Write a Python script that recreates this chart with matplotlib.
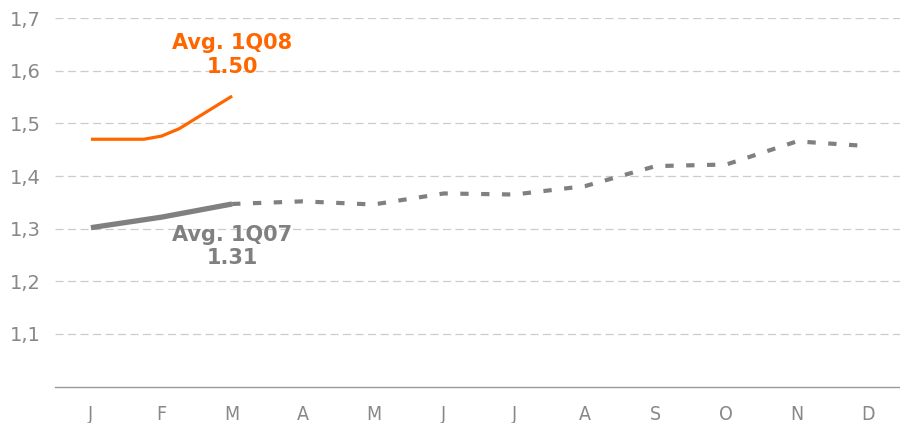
"""
Monthly line chart: 2008 (orange) vs 2007 (grey, solid Q1 + dashed rest of year)
"""

import matplotlib.pyplot as plt

months = ["J", "F", "M", "A", "M", "J", "J", "A", "S", "O", "N", "D"]

# 2008 series, read at sub-month positions (J..M)
x_2008 = [0, 0.5, 0.75, 1.0, 1.25, 2.0]
y_2008 = [1.470, 1.470, 1.470, 1.476, 1.490, 1.552]

# 2007 series, first quarter (solid)
x_2007_q1 = [0, 1, 2]
y_2007_q1 = [1.302, 1.322, 1.347]

# 2007 series, rest of year (dashed)
x_2007_rest = [2, 3, 4, 5, 6, 7, 8, 9, 10, 11]
y_2007_rest = [1.347, 1.352, 1.346, 1.367, 1.365, 1.381, 1.419, 1.422, 1.466, 1.457]

yticks = [1.1, 1.2, 1.3, 1.4, 1.5, 1.6, 1.7]
ytick_labels = ["1,1", "1,2", "1,3", "1,4", "1,5", "1,6", "1,7"]

orange = "#FF6600"
grey = "#808080"

fig = plt.figure(figsize=(9, 4.23), dpi=100)
ax = fig.add_axes([0.061, 0.086, 0.939, 0.871])

ax.plot(x_2008, y_2008, color=orange, linewidth=2.3, solid_capstyle="butt", zorder=3)
ax.plot(x_2007_q1, y_2007_q1, color=grey, linewidth=3.8, solid_capstyle="butt", zorder=3)
ax.plot(x_2007_rest, y_2007_rest, color=grey, linewidth=3.0,
        dashes=(2.0, 3.0), dash_capstyle="butt", zorder=3)

ax.text(2, 1.630, "Avg. 1Q08\n1.50", color=orange, fontsize=15, fontweight="bold",
        ha="center", va="center", linespacing=1.3)
ax.text(2, 1.266, "Avg. 1Q07\n1.31", color=grey, fontsize=15, fontweight="bold",
        ha="center", va="center", linespacing=1.2)

ax.set_xlim(-0.51, 11.46)
ax.set_ylim(1.0, 1.7)
ax.set_xticks(range(12))
ax.set_xticklabels(months, fontsize=14, fontstretch="condensed")
ax.set_yticks(yticks)
ax.set_yticklabels(ytick_labels, fontsize=14)
ax.tick_params(axis="both", length=0, colors="#888888")
ax.tick_params(axis="x", pad=13)
ax.tick_params(axis="y", pad=10)

ax.grid(axis="y", color="#CCCCCC", linestyle=(0, (6.5, 3.5)), linewidth=0.9)
ax.set_axisbelow(True)
for side in ["top", "right", "left"]:
    ax.spines[side].set_visible(False)
ax.spines["bottom"].set_color("#999999")
ax.spines["bottom"].set_linewidth(1.0)

plt.savefig("out.png", dpi=100)
